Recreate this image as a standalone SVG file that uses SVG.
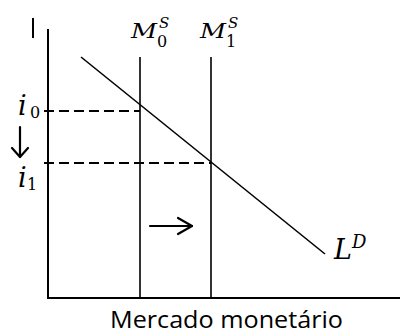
<svg xmlns="http://www.w3.org/2000/svg" width="400" height="334" viewBox="0 0 400 334">
<style>
.ax{stroke:#000;stroke-width:2;fill:none}
.ln{stroke:#000;stroke-width:1.6;fill:none}
.arr{stroke:#000;stroke-width:2.2;fill:none;stroke-linecap:round;stroke-linejoin:round}
.dash{stroke:#000;stroke-width:1.8;fill:none;stroke-dasharray:10 5}
.m{font-family:"DejaVu Serif","Liberation Serif",serif;font-style:italic;font-size:21px;fill:#000}
.big{font-family:"DejaVu Serif","Liberation Serif",serif;font-style:italic;font-size:27px;fill:#000}
.sub{font-family:"DejaVu Serif","Liberation Serif",serif;font-size:16px;fill:#000}
.supi{font-family:"DejaVu Serif","Liberation Serif",serif;font-style:italic;font-size:15px;fill:#000}
.lab{font-family:"Open Sans","Liberation Sans",sans-serif;font-size:23px;fill:#000}
</style>
<rect width="400" height="334" fill="#fff"/>
<g id="axes">
<line class="ax" x1="48" y1="29" x2="48" y2="298"/>
<line class="ax" x1="47" y1="298" x2="400" y2="298"/>
<line class="ax" x1="33" y1="18" x2="33" y2="38"/>
</g>
<g id="connectors">
<line class="dash" x1="44" y1="111" x2="140" y2="111"/>
<line class="dash" x1="44" y1="163" x2="211" y2="163"/>
<line class="ln" x1="81" y1="57" x2="325" y2="254"/>
<line class="arr" x1="20" y1="127" x2="20" y2="157"/>
<polyline class="arr" points="12,148 20,157 28,148"/>
<line class="arr" x1="150" y1="226" x2="192" y2="226"/>
<polyline class="arr" points="178,218 192,226 178,234"/>
</g>
<g id="M0S">
<line class="ln" x1="140" y1="57" x2="140" y2="298"/>
<text class="m" x="131" y="38" textLength="26" lengthAdjust="spacingAndGlyphs">M</text>
<text class="supi" x="159" y="28">S</text>
<text class="sub" x="157" y="47">0</text>
</g>
<g id="M1S">
<line class="ln" x1="211" y1="57" x2="211" y2="298"/>
<text class="m" x="200" y="38" textLength="26" lengthAdjust="spacingAndGlyphs">M</text>
<text class="supi" x="228" y="28">S</text>
<text class="sub" x="226" y="47">1</text>
</g>
<g id="i0">
<text class="big" x="18" y="115">i</text>
<text class="sub" x="30" y="118">0</text>
</g>
<g id="i1">
<text class="big" x="18" y="187">i</text>
<text class="sub" x="27" y="190">1</text>
</g>
<g id="LD">
<text class="big" x="334" y="259">L</text>
<text class="supi" x="352" y="248" style="font-size:18px">D</text>
</g>
<text class="lab" x="110" y="328" textLength="233" lengthAdjust="spacingAndGlyphs">Mercado monetário</text>
</svg>
